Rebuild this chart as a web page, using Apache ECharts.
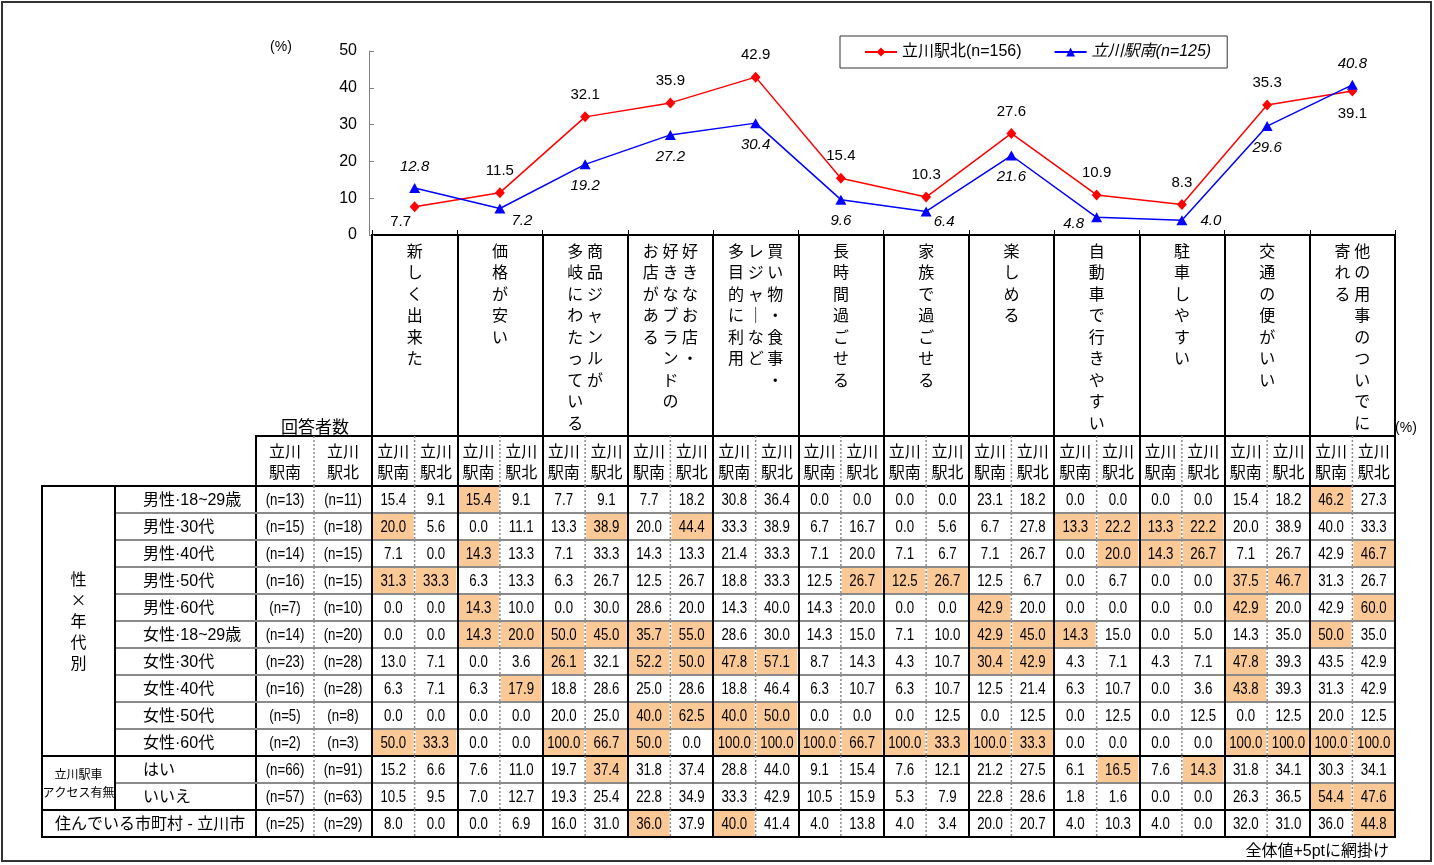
<!DOCTYPE html>
<html>
<head>
<meta charset="utf-8">
<script src="https://cdn.jsdelivr.net/npm/echarts@6/dist/echarts.min.js"></script>
<style>
  html, body { margin: 0; background: #fff; }
  #chart { width: 1434px; height: 865px; }
</style>
</head>
<body>
<div id="chart"></div>
<script>
// 立川駅 北/南 比較：折れ線＋属性別クロス表

// 項目（縦書き用に列ごと、右の列から）
const categories = [
  ['新しく出来た'],
  ['価格が安い'],
  ['商品ジャンルが', '多岐にわたっている'],
  ['好きなお店・', '好きなブランドの', 'お店がある'],
  ['買い物・食事・', 'レジャーなど', '多目的に利用'],
  ['長時間過ごせる'],
  ['家族で過ごせる'],
  ['楽しめる'],
  ['自動車で行きやすい'],
  ['駐車しやすい'],
  ['交通の便がいい'],
  ['他の用事のついでに', '寄れる'],
];

const northName = '立川駅北(n=156)';
const southName = '立川駅南(n=125)';
const northTotal = [7.7, 11.5, 32.1, 35.9, 42.9, 15.4, 10.3, 27.6, 10.9, 8.3, 35.3, 39.1];
const southTotal = [12.8, 7.2, 19.2, 27.2, 30.4, 9.6, 6.4, 21.6, 4.8, 4.0, 29.6, 40.8];

const headerLabels = ['立川\n駅南', '立川\n駅北'];

const rowLabels = [
  '男性·18~29歳', '男性·30代', '男性·40代', '男性·50代', '男性·60代',
  '女性·18~29歳', '女性·30代', '女性·40代', '女性·50代', '女性·60代',
  'はい', 'いいえ', '住んでいる市町村 - 立川市',
];
// [ラベル, 開始行, 終了行]
const rowGroups = [
  ['性\n×\n年\n代\n別', 0, 9],
  ['立川駅車\nアクセス有無', 10, 11],
];
const nSouth = [13, 15, 14, 16, 7, 14, 23, 16, 5, 2, 66, 57, 25];
const nNorth = [11, 18, 15, 15, 10, 20, 28, 28, 8, 3, 91, 63, 29];

const southRows = [
  [15.4, 15.4, 7.7, 7.7, 30.8, 0.0, 0.0, 23.1, 0.0, 0.0, 15.4, 46.2],
  [20.0, 0.0, 13.3, 20.0, 33.3, 6.7, 0.0, 6.7, 13.3, 13.3, 20.0, 40.0],
  [7.1, 14.3, 7.1, 14.3, 21.4, 7.1, 7.1, 7.1, 0.0, 14.3, 7.1, 42.9],
  [31.3, 6.3, 6.3, 12.5, 18.8, 12.5, 12.5, 12.5, 0.0, 0.0, 37.5, 31.3],
  [0.0, 14.3, 0.0, 28.6, 14.3, 14.3, 0.0, 42.9, 0.0, 0.0, 42.9, 42.9],
  [0.0, 14.3, 50.0, 35.7, 28.6, 14.3, 7.1, 42.9, 14.3, 0.0, 14.3, 50.0],
  [13.0, 0.0, 26.1, 52.2, 47.8, 8.7, 4.3, 30.4, 4.3, 4.3, 47.8, 43.5],
  [6.3, 6.3, 18.8, 25.0, 18.8, 6.3, 6.3, 12.5, 6.3, 0.0, 43.8, 31.3],
  [0.0, 0.0, 20.0, 40.0, 40.0, 0.0, 0.0, 0.0, 0.0, 0.0, 0.0, 20.0],
  [50.0, 0.0, 100.0, 50.0, 100.0, 100.0, 100.0, 100.0, 0.0, 0.0, 100.0, 100.0],
  [15.2, 7.6, 19.7, 31.8, 28.8, 9.1, 7.6, 21.2, 6.1, 7.6, 31.8, 30.3],
  [10.5, 7.0, 19.3, 22.8, 33.3, 10.5, 5.3, 22.8, 1.8, 0.0, 26.3, 54.4],
  [8.0, 0.0, 16.0, 36.0, 40.0, 4.0, 4.0, 20.0, 4.0, 4.0, 32.0, 36.0],
];
const northRows = [
  [9.1, 9.1, 9.1, 18.2, 36.4, 0.0, 0.0, 18.2, 0.0, 0.0, 18.2, 27.3],
  [5.6, 11.1, 38.9, 44.4, 38.9, 16.7, 5.6, 27.8, 22.2, 22.2, 38.9, 33.3],
  [0.0, 13.3, 33.3, 13.3, 33.3, 20.0, 6.7, 26.7, 20.0, 26.7, 26.7, 46.7],
  [33.3, 13.3, 26.7, 26.7, 33.3, 26.7, 26.7, 6.7, 6.7, 0.0, 46.7, 26.7],
  [0.0, 10.0, 30.0, 20.0, 40.0, 20.0, 0.0, 20.0, 0.0, 0.0, 20.0, 60.0],
  [0.0, 20.0, 45.0, 55.0, 30.0, 15.0, 10.0, 45.0, 15.0, 5.0, 35.0, 35.0],
  [7.1, 3.6, 32.1, 50.0, 57.1, 14.3, 10.7, 42.9, 7.1, 7.1, 39.3, 42.9],
  [7.1, 17.9, 28.6, 28.6, 46.4, 10.7, 10.7, 21.4, 10.7, 3.6, 39.3, 42.9],
  [0.0, 0.0, 25.0, 62.5, 50.0, 0.0, 12.5, 12.5, 12.5, 12.5, 12.5, 12.5],
  [33.3, 0.0, 66.7, 0.0, 100.0, 66.7, 33.3, 33.3, 0.0, 0.0, 100.0, 100.0],
  [6.6, 11.0, 37.4, 37.4, 44.0, 15.4, 12.1, 27.5, 16.5, 14.3, 34.1, 34.1],
  [9.5, 12.7, 25.4, 34.9, 42.9, 15.9, 7.9, 28.6, 1.6, 0.0, 36.5, 47.6],
  [0.0, 6.9, 31.0, 37.9, 41.4, 13.8, 3.4, 20.7, 10.3, 0.0, 31.0, 44.8],
];

// ---- 見た目 ----
const FONT = "'Liberation Sans', 'Noto Sans CJK JP', sans-serif";
const CJK = "'Noto Sans CJK JP', sans-serif";
const NARROW = 0.78;   // Arial Narrow 風に横を詰める
const HL = '#FBC996';
const GRAY = { stroke: '#8a8a8a', lineWidth: 2 };
const DASH = { stroke: '#8a8a8a', lineWidth: 1.5, lineDash: [2, 2] };
const BLACK = { stroke: '#000', lineWidth: 2 };
const GROUP_W = 73;

// ラベル位置（点ごと）
const northLabel = [
  { position: 'bottom', distance: 2, offset: [-14, 0] },
  'top', 'top', 'top', 'top', 'top', 'top', 'top', 'top', 'top', 'top',
  { position: 'bottom', distance: 10 },
];
const southLabel = [
  'top',
  { position: 'right', distance: 6, offset: [0, 12] },
  'bottom', 'bottom', 'bottom', 'bottom',
  { position: 'right', distance: 2, offset: [0, 10] },
  'bottom',
  { position: 'left', distance: 7, offset: [0, 6] },
  { position: 'right', distance: 13, offset: [0, 1] },
  'bottom', 'top',
];

function tate(cols) {
  const n = Math.max(...cols.map(s => s.length));
  const lines = [];
  for (let i = 0; i < n; i++) {
    lines.push(cols.slice().reverse().map(s => (s[i] || '\u3000').replace('ー', '｜')).join(' '));
  }
  return lines.join('\n');
}

function seg(x1, y1, x2, y2, style) {
  return { type: 'line', shape: { x1, y1, x2, y2 }, style: Object.assign({ fill: null }, style) };
}
function txt(text, x, y, font, align, extra) {
  return {
    type: 'text',
    style: Object.assign({
      text, x, y, font, fill: '#000',
      align: align || 'center', verticalAlign: 'middle',
      textAlign: align || 'center', textVerticalAlign: 'middle',
    }, extra || {}),
  };
}
// 横に詰めた数値テキスト
function narrowTxt(text, x, y) {
  const t = txt(text, 0, 0, '17px ' + FONT);
  t.x = x; t.y = y; t.scaleX = NARROW;
  return t;
}

const groupEnds = new Set(rowGroups.map(g => g[2]));
const lastRow = rowLabels.length - 1;
function rowLine(r) {
  if (r === lastRow) return null;
  return groupEnds.has(r) ? BLACK : GRAY;
}

function mkLabel(p, italic) {
  const base = { show: true, color: '#000', fontSize: 15, fontFamily: FONT, fontStyle: italic ? 'italic' : 'normal', distance: 9 };
  return typeof p === 'string' ? Object.assign(base, { position: p }) : Object.assign(base, p);
}

// 表データ
const bodyData = [];
southRows.forEach((row, r) => {
  row.forEach((v, k) => {
    const nv = northRows[r][k];
    bodyData.push([2 * k, r, v, v >= southTotal[k] + 5 - 1e-9 ? 1 : 0]);
    bodyData.push([2 * k + 1, r, nv, nv >= northTotal[k] + 5 - 1e-9 ? 1 : 0]);
  });
});
const nData = [];
nSouth.forEach((n, r) => { nData.push([0, r, n]); nData.push([1, r, nNorth[r]]); });

const colNames24 = [];
categories.forEach((c, i) => { colNames24.push('S' + i); colNames24.push('N' + i); });
const rowIdx = rowLabels.map((_, i) => String(i));

function headerCell(params, api) {
  const c = api.value(0);
  const [cx, cy] = api.coord([c, 0]);
  const [w, h] = api.size([1, 1]);
  const ch = [txt(headerLabels[c % 2], cx, cy, '16px ' + CJK, 'center', { lineHeight: 21 })];
  if (c % 2 === 0) ch.push(seg(cx + w / 2, cy - h / 2, cx + w / 2, cy + h / 2, DASH));
  return { type: 'group', children: ch };
}

function bodyCell(isN) {
  return (params, api) => {
    const c = api.value(0), r = api.value(1), v = api.value(2);
    const [cx, cy] = api.coord([c, r]);
    const [w, h] = api.size([1, 1]);
    const x0 = cx - w / 2, y0 = cy - h / 2;
    const ch = [];
    if (!isN && api.value(3)) ch.push({ type: 'rect', shape: { x: x0 + 1, y: y0 + 1, width: w - 2, height: h - 2 }, style: { fill: HL } });
    if (c % 2 === 0) ch.push(seg(x0 + w, y0, x0 + w, y0 + h, DASH));
    const hs = rowLine(r);
    if (hs) ch.push(seg(x0, y0 + h, x0 + w, y0 + h, hs));
    ch.push(narrowTxt(isN ? '(n=' + v + ')' : v.toFixed(1), cx, cy + 1));
    return { type: 'group', children: ch };
  };
}

function rowHead(params, api) {
  const i = params.dataIndex, cs = params.coordSys;
  const cy = api.coord([0, i])[1];
  const h = api.size([0, 1])[1];
  const g = rowGroups.find(gr => i >= gr[1] && i <= gr[2]);
  const ch = [];
  const x = g ? cs.x + GROUP_W + 28 : cs.x + 13;
  ch.push(txt(rowLabels[i], x, cy + 1, '16px ' + FONT, 'left'));
  if (g && i < g[2]) ch.push(seg(cs.x + GROUP_W, cy + h / 2, cs.x + cs.width, cy + h / 2, GRAY));
  return { type: 'group', children: ch };
}

function groupHead(params, api) {
  const g = rowGroups[params.dataIndex], cs = params.coordSys;
  const h = api.size([0, 1])[1];
  const y1 = api.coord([0, g[1]])[1] - h / 2;
  const y2 = api.coord([0, g[2]])[1] + h / 2;
  const small = params.dataIndex > 0;
  const ch = [
    seg(cs.x + GROUP_W, y1, cs.x + GROUP_W, y2, BLACK),
    txt(g[0], cs.x + GROUP_W / 2, (y1 + y2) / 2, (small ? '12px ' : '16px ') + CJK, 'center', { lineHeight: small ? 18 : 21 }),
  ];
  if (g[2] < lastRow) ch.push(seg(cs.x, y2, cs.x + cs.width, y2, BLACK));
  return { type: 'group', children: ch };
}

const chart = echarts.init(document.getElementById('chart'));
const hidden = { show: false };
const box = { show: true, borderColor: '#000', borderWidth: 2, backgroundColor: 'transparent' };

chart.setOption({
  animation: false,
  backgroundColor: '#fff',
  textStyle: { fontFamily: FONT },
  legend: {
    left: 840, top: 36,
    padding: [8, 16, 8, 24],
    itemGap: 32, itemWidth: 32, itemHeight: 11,
    borderColor: '#333', borderWidth: 1,
    textStyle: { fontSize: 16, fontFamily: FONT, color: '#000' },
    data: [{ name: northName }, { name: southName, textStyle: { fontStyle: 'italic' } }],
  },
  grid: [
    { left: 372, top: 51, width: 1023, height: 184 },                 // 0 折れ線
    Object.assign({ left: 372, top: 235, width: 1023, height: 602 }, box), // 1 太い縦線
    Object.assign({ left: 372, top: 436, width: 1023, height: 50 }, box),  // 2 表見出し
    Object.assign({ left: 372, top: 486, width: 1023, height: 351 }, box), // 3 表本体
    Object.assign({ left: 256, top: 436, width: 116, height: 50 }, box),   // 4 回答者数 見出し
    Object.assign({ left: 256, top: 486, width: 116, height: 351 }, box),  // 5 回答者数
    Object.assign({ left: 42, top: 486, width: 214, height: 351 }, box),   // 6 行見出し
  ],
  xAxis: [
    {
      gridIndex: 0, type: 'category', data: categories.map(c => c.join('')),
      axisLine: { lineStyle: { color: '#000', width: 2 } },
      axisTick: { show: true, inside: true, length: 5, interval: 0, lineStyle: { color: '#000' } },
      axisLabel: {
        interval: 0, margin: 5, color: '#000', fontSize: 16, fontFamily: CJK, lineHeight: 21.5,
        verticalAlign: 'top', formatter: (v, i) => tate(categories[i]),
      },
    },
    {
      gridIndex: 1, type: 'category', data: categories.map((_, i) => i), z: 5,
      axisLine: hidden, axisTick: hidden, axisLabel: hidden,
      splitLine: { show: true, interval: 0, lineStyle: { color: '#000', width: 2 } },
    },
    { gridIndex: 2, type: 'category', data: colNames24, show: false },
    { gridIndex: 3, type: 'category', data: colNames24, show: false },
    { gridIndex: 4, type: 'category', data: ['S', 'N'], show: false },
    { gridIndex: 5, type: 'category', data: ['S', 'N'], show: false },
    { gridIndex: 6, type: 'value', min: 0, max: 1, show: false },
  ],
  yAxis: [
    {
      gridIndex: 0, type: 'value', min: 0, max: 50, interval: 10, offset: 3,
      axisLine: { show: true, lineStyle: { color: '#808080' } },
      axisTick: { show: true, inside: true, length: 5, lineStyle: { color: '#808080' } },
      splitLine: hidden,
      axisLabel: { color: '#000', fontSize: 16, fontFamily: FONT, margin: 12 },
    },
    { gridIndex: 1, type: 'value', min: 0, max: 1, show: false },
    { gridIndex: 2, type: 'category', data: ['h'], show: false },
    { gridIndex: 3, type: 'category', data: rowIdx, inverse: true, show: false },
    { gridIndex: 4, type: 'category', data: ['h'], show: false },
    { gridIndex: 5, type: 'category', data: rowIdx, inverse: true, show: false },
    { gridIndex: 6, type: 'category', data: rowIdx, inverse: true, show: false },
  ],
  series: [
    {
      name: northName, type: 'line', xAxisIndex: 0, yAxisIndex: 0,
      color: '#FF0000', symbol: 'diamond', symbolSize: [10, 11],
      lineStyle: { width: 1.5 },
      data: northTotal.map((v, i) => ({ value: v, label: mkLabel(northLabel[i], false) })),
      label: { formatter: p => p.value.toFixed(1) },
    },
    {
      name: southName, type: 'line', xAxisIndex: 0, yAxisIndex: 0,
      color: '#0000FF', symbol: 'triangle', symbolSize: [11, 10],
      lineStyle: { width: 1.5 },
      data: southTotal.map((v, i) => ({ value: v, label: mkLabel(southLabel[i], true) })),
      label: { formatter: p => p.value.toFixed(1) },
    },
    { type: 'custom', xAxisIndex: 2, yAxisIndex: 2, data: colNames24.map((_, i) => [i, 0]), renderItem: headerCell, silent: true },
    { type: 'custom', xAxisIndex: 3, yAxisIndex: 3, data: bodyData, renderItem: bodyCell(false), silent: true },
    { type: 'custom', xAxisIndex: 4, yAxisIndex: 4, data: [[0, 0], [1, 0]], renderItem: headerCell, silent: true },
    { type: 'custom', xAxisIndex: 5, yAxisIndex: 5, data: nData, renderItem: bodyCell(true), silent: true },
    { type: 'custom', xAxisIndex: 6, yAxisIndex: 6, data: rowLabels.map((_, i) => [0, i]), renderItem: rowHead, silent: true },
    { type: 'custom', xAxisIndex: 6, yAxisIndex: 6, data: rowGroups.map(g => [0, g[1], g[2]]), renderItem: groupHead, silent: true },
  ],
  graphic: [
    { type: 'rect', silent: true, z: -1, shape: { x: 2, y: 2, width: 1429, height: 859 }, style: { fill: null, stroke: '#333', lineWidth: 2 } },
    txt('(%)', 281, 47, '14px ' + FONT),
    txt('(%)', 1406, 428, '14px ' + FONT),
    txt('回答者数', 315, 427, '17px ' + CJK),
    txt('全体値+5ptに網掛け', 1389, 852, '16px ' + FONT, 'right'),
  ],
});
</script>
</body>
</html>
